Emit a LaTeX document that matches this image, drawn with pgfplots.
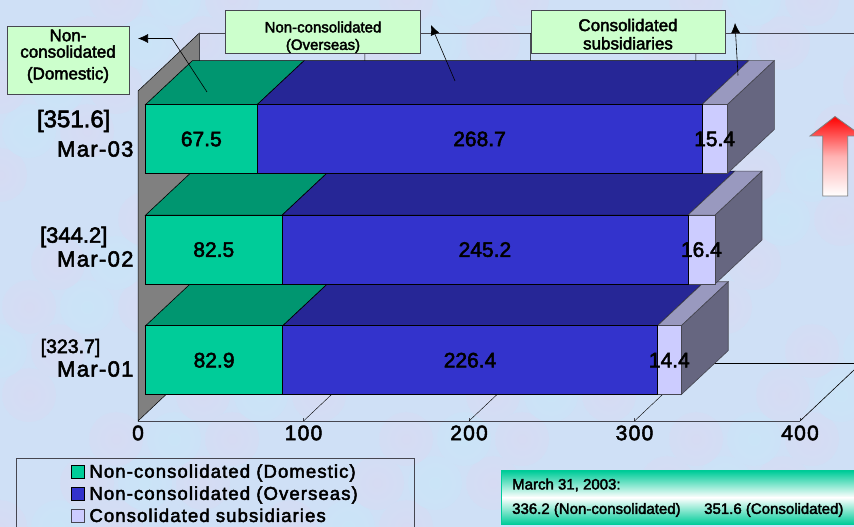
\documentclass[border=0pt]{standalone}
\usepackage{fontspec}
\usepackage{pgfplots}
\pgfplotsset{compat=1.18}
\usetikzlibrary{arrows.meta}
\setmainfont{Liberation Sans}
\newfontfamily\lf[FakeBold=2.5]{Liberation Sans}
\newfontfamily\ls[FakeBold=2.5,LetterSpace=6]{Liberation Sans}
\newcommand{\fs}[1]{\fontsize{#1}{#1}\selectfont}
\definecolor{bgbase}{RGB}{207,224,246}
\definecolor{bgpink}{RGB}{214,219,243}
\definecolor{bgblue}{RGB}{202,228,247}
\definecolor{domF}{RGB}{0,204,153}
\definecolor{domT}{RGB}{0,150,112}
\definecolor{ovF}{RGB}{51,51,204}
\definecolor{ovT}{RGB}{38,38,150}
\definecolor{conF}{RGB}{204,204,255}
\definecolor{conT}{RGB}{153,153,191}
\definecolor{conS}{RGB}{102,102,128}
\definecolor{callout}{RGB}{204,255,204}
\definecolor{edge}{RGB}{70,70,80}
\definecolor{wall}{RGB}{128,128,128}
\definecolor{band}{RGB}{0,204,153}
\pgfdeclareradialshading{softpink}{\pgfpointorigin}{color(0bp)=(bgpink); color(50bp)=(bgbase)}
\pgfdeclareradialshading{softblue}{\pgfpointorigin}{color(0bp)=(bgblue); color(50bp)=(bgbase)}
\begin{document}
\begin{tikzpicture}[x=1pt,y=1pt]
\path[use as bounding box] (0,0) rectangle (854,527);
\fill[bgbase] (0,0) rectangle (854,527);
% mottled backdrop: a regular lattice of faint blobs
\foreach \i in {0,...,15}{
  \foreach \j in {0,...,12}{
    \pgfmathtruncatemacro{\k}{mod(\i*3+\j*2,5)}
    \pgfmathsetmacro{\cx}{\i*58+mod(\j,2)*29}
    \pgfmathsetmacro{\cy}{\j*44}
    \ifnum\k<2
      \shade[shading=softpink] (\cx,\cy) circle (27);
    \else\ifnum\k=3
      \shade[shading=softblue] (\cx,\cy) circle (27);
    \fi\fi
  }
}
% ---------- walls, floor, value axis
\begin{axis}[name=base,at={(138pt,106pt)},anchor=south west,scale only axis,
  width=662pt,height=330pt,xmin=0,xmax=400,ymin=0,ymax=3,clip=false,
  axis x line=bottom,axis y line=left,axis line style={-,draw=edge,line width=0.8pt},
  tick align=inside,
  xtick={0,100,200,300,400},
  ytick={0.5,1.5,2.5},yticklabels={Mar-01,Mar-02,Mar-03},
  major tick length=3pt,
  y tick style={draw=none},
  extra y ticks={0,1,2,3},extra y tick labels={},
  extra y tick style={tick style={draw=edge}},
  x tick style={draw=edge},
  /pgf/number format/assume math mode=true,
  xticklabel style={font=\ls\fs{21},yshift=-1pt},
  yticklabel style={font=\ls\fs{22},xshift=-1pt,yshift=-3pt},
  ]
\addplot[fill=wall,draw=black,line width=0.5pt] coordinates {(0,0)(0,3)(37.1,3.527)(37.1,0.527)} -- cycle;
% back wall top edge, floor back edge, floor right edge
\addplot[edge,line width=0.9pt] coordinates {(37.1,3.527)(440,3.527)};
\addplot[black,line width=0.6pt] coordinates {(37.1,0.527)(440,0.527)};
\addplot[black,line width=0.6pt] coordinates {(400,0)(437.1,0.527)};
% floor and wall grid lines
\addplot[black,line width=0.4pt] coordinates {(100,0)(137.1,0.527)(137.1,3.527)};
\addplot[black,line width=0.4pt] coordinates {(200,0)(237.1,0.527)(237.1,3.527)};
\addplot[black,line width=0.4pt] coordinates {(300,0)(337.1,0.527)(337.1,3.527)};
\end{axis}
% ---------- depth faces of the bars
\begin{axis}[at={(145.5pt,111.5pt)},anchor=south west,scale only axis,
  width=662pt,height=331.8pt,xmin=0,xmax=400,ymin=0,ymax=3,clip=false,hide axis]
% Mar-01
\addplot[fill=domT,draw=black,line width=0.6pt] coordinates {(0,0.811)(82.9,0.811)(111.3,1.209)(28.4,1.209)} -- cycle;
\addplot[fill=ovT,draw=black,line width=0.6pt] coordinates {(82.9,0.811)(309.3,0.811)(337.7,1.209)(111.3,1.209)} -- cycle;
\addplot[fill=conT,draw=edge,line width=0.6pt] coordinates {(309.3,0.811)(323.7,0.811)(352.1,1.209)(337.7,1.209)} -- cycle;
\addplot[fill=conS,draw=edge,line width=0.6pt] coordinates {(323.7,0.189)(323.7,0.811)(352.1,1.209)(352.1,0.587)} -- cycle;
% Mar-02
\addplot[fill=domT,draw=black,line width=0.6pt] coordinates {(0,1.811)(82.5,1.811)(110.9,2.209)(28.4,2.209)} -- cycle;
\addplot[fill=ovT,draw=black,line width=0.6pt] coordinates {(82.5,1.811)(327.7,1.811)(356.1,2.209)(110.9,2.209)} -- cycle;
\addplot[fill=conT,draw=edge,line width=0.6pt] coordinates {(327.7,1.811)(344.1,1.811)(372.5,2.209)(356.1,2.209)} -- cycle;
\addplot[fill=conS,draw=edge,line width=0.6pt] coordinates {(344.1,1.189)(344.1,1.811)(372.5,2.209)(372.5,1.587)} -- cycle;
% Mar-03
\addplot[fill=domT,draw=black,line width=0.6pt] coordinates {(0,2.811)(67.5,2.811)(95.9,3.209)(28.4,3.209)} -- cycle;
\addplot[fill=ovT,draw=black,line width=0.6pt] coordinates {(67.5,2.811)(336.2,2.811)(364.6,3.209)(95.9,3.209)} -- cycle;
\addplot[fill=conT,draw=edge,line width=0.6pt] coordinates {(336.2,2.811)(351.6,2.811)(380,3.209)(364.6,3.209)} -- cycle;
\addplot[fill=conS,draw=edge,line width=0.6pt] coordinates {(351.6,2.189)(351.6,2.811)(380,3.209)(380,2.587)} -- cycle;
\end{axis}
% ---------- front faces and legend
\begin{axis}[at={(145.5pt,111.5pt)},anchor=south west,scale only axis,
  width=662pt,height=331.8pt,xmin=0,xmax=400,ymin=0,ymax=3,clip=false,hide axis,
  xbar stacked,bar width=69pt,
  legend style={at={(-0.1956,-0.128)},anchor=north west,fill=none,draw=edge,line width=0.7pt,
    inner xsep=54.5pt,inner ysep=4pt,row sep=3.2pt,font=\ls\fs{18.5},
    /tikz/every odd column/.append style={column sep=3pt}},
  legend cell align=left,
  legend image code/.code={\draw[#1,line width=0.6pt] (0pt,-6.5pt) rectangle (13pt,6.5pt);}]
\addplot[fill=domF,draw=black,line width=0.6pt] coordinates {(82.9,0.5)(82.5,1.5)(67.5,2.5)};
\addplot[fill=ovF,draw=black,line width=0.6pt] coordinates {(226.4,0.5)(245.2,1.5)(268.7,2.5)};
\addplot[fill=conF,draw=edge,line width=0.6pt] coordinates {(14.4,0.5)(16.4,1.5)(15.4,2.5)};
\legend{Non-consolidated (Domestic),Non-consolidated (Overseas),Consolidated subsidiaries}
\end{axis}
% ---------- value labels
\begin{axis}[at={(145.5pt,111.5pt)},anchor=south west,scale only axis,
  width=662pt,height=331.8pt,xmin=0,xmax=400,ymin=0,ymax=3,clip=false,hide axis]
\node[font=\lf\fs{21}] at (axis cs:41.45,0.5) {82.9};
\node[font=\lf\fs{21}] at (axis cs:196.1,0.5) {226.4};
\node[font=\lf\fs{21}] at (axis cs:316.5,0.5) {14.4};
\node[font=\lf\fs{21}] at (axis cs:41.25,1.5) {82.5};
\node[font=\lf\fs{21}] at (axis cs:205.1,1.5) {245.2};
\node[font=\lf\fs{21}] at (axis cs:335.9,1.5) {16.4};
\node[font=\lf\fs{21}] at (axis cs:33.75,2.5) {67.5};
\node[font=\lf\fs{21}] at (axis cs:201.85,2.5) {268.7};
\node[font=\lf\fs{21}] at (axis cs:343.9,2.5) {15.4};
\end{axis}
% ---------- annotation layer, written in the reference's pixel coordinates
\begin{scope}[shift={(0,527pt)},y=-1pt,x=1pt,every node/.style={inner sep=0pt}]
\node[font=\lf\fs{24}] at (73.7,121) {[351.6]};
\node[font=\lf\fs{22}] at (73.7,237) {[344.2]};
\node[font=\lf\fs{19.5}] at (70.5,348) {[323.7]};
% callouts
\draw[edge,fill=callout,line width=0.8pt] (7,26.5) rectangle (129.5,94);
\node[font=\lf\fs{17}] at (68,35.5) {Non-};
\node[font=\lf\fs{17}] at (68,51.5) {consolidated};
\node[font=\lf\fs{17}] at (68,75) {(Domestic)};
\draw[edge,fill=callout,line width=0.8pt] (225.5,10.5) rectangle (420.5,53);
\node[font=\lf\fs{15}] at (323,27) {Non-consolidated};
\node[font=\lf\fs{15}] at (323,46) {(Overseas)};
\draw[edge,fill=callout,line width=0.8pt] (531,10.5) rectangle (725.5,53);
\node[font=\lf\fs{17}] at (628,25) {Consolidated};
\node[font=\lf\fs{17}] at (628,43.3) {subsidiaries};
% leaders
\draw[black,line width=0.6pt,-{Latex[length=10pt,width=9pt]}] (207,92) -- (172,38.5) -- (138,38.5);
\draw[black,line width=0.6pt,-{Latex[length=10pt,width=9pt]}] (455,81) -- (431,25);
\draw[black,line width=0.6pt,-{Latex[length=10pt,width=9pt]}] (738,75.5) -- (735,23);
% red arrow
\shade[top color=red,bottom color=white,middle color=red!30!white,draw=gray,line width=0.8pt]
  (835,116.5) -- (862,136) -- (847.7,136) -- (847.7,196) -- (822.7,196) -- (822.7,136) -- (810,136) -- cycle;
% note band
\shade[top color=band,bottom color=white] (501,471) rectangle (860,497.5);
\shade[top color=white,bottom color=band] (501,497.5) rectangle (860,524);
\draw[band,line width=0.8pt] (860,471) -- (501,471) -- (501,524) -- (860,524);
\node[font=\lf\fs{15},anchor=west] at (512,485) {March 31, 2003:};
\node[font=\lf\fs{15},anchor=west] at (512,510) {336.2 (Non-consolidated)};
\node[font=\lf\fs{15},anchor=west] at (704,510) {351.6 (Consolidated)};
\end{scope}
\end{tikzpicture}
\end{document}
